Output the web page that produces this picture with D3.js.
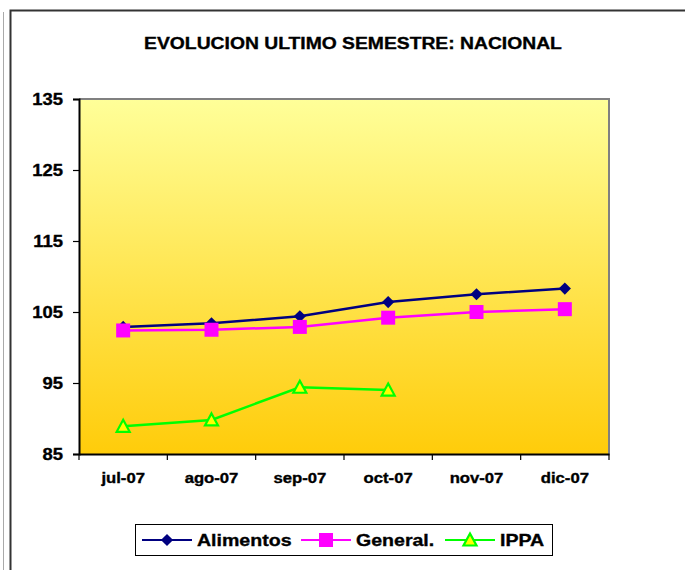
<!DOCTYPE html>
<html>
<head>
<meta charset="utf-8">
<script src="https://cdn.jsdelivr.net/npm/d3@7"></script>
<style>
  html, body { margin: 0; padding: 0; background: #fff; }
  svg { display: block; font-family: "Liberation Sans", Arial, sans-serif; }
  svg text { stroke: #000; stroke-width: 0.35px; paint-order: stroke; }
</style>
</head>
<body>
<svg id="chart" width="685" height="570"></svg>
<script>
// Monthly index values, second half of 2007
const months = ["jul-07", "ago-07", "sep-07", "oct-07", "nov-07", "dic-07"];
const alimentos = [102.9, 103.4, 104.4, 106.4, 107.5, 108.3];
const general = [102.4, 102.5, 102.9, 104.2, 105.0, 105.4];
const ippa = [88.9, 89.8, 94.4, 94.0, null, null];
const yTicks = [85, 95, 105, 115, 125, 135];

const seriesList = [
  { name: "Alimentos", values: alimentos, color: "#000080", marker: "diamond" },
  { name: "General.", values: general, color: "#FF00FF", marker: "square" },
  { name: "IPPA", values: ippa, color: "#00FF00", marker: "triangle" }
];

const svg = d3.select("#chart");
const plot = { left: 79, top: 99, right: 609, bottom: 454 };
const WIDEN = 1.15; // the lettering is drawn slightly wide

function widen(sel) {
  sel.each(function () {
    const w = this.getComputedTextLength();
    d3.select(this).attr("textLength", w * WIDEN).attr("lengthAdjust", "spacingAndGlyphs");
  });
}

// Outer chart frame
svg.append("line").attr("x1", 3.5).attr("x2", 3.5).attr("y1", 12).attr("y2", 570)
  .attr("stroke", "#aaa").attr("stroke-width", 1);
svg.append("path").attr("d", "M10.5,570 V10.5 H685")
  .attr("fill", "none").attr("stroke", "#333").attr("stroke-width", 2);

svg.append("text").attr("x", 353).attr("y", 48.5).attr("text-anchor", "middle")
  .attr("font-size", 16.8).attr("font-weight", "bold").attr("fill", "#000")
  .text("EVOLUCION ULTIMO SEMESTRE: NACIONAL")
  .call(widen);

const x = d3.scaleBand().domain(months).range([plot.left, plot.right]).padding(0);
const y = d3.scaleLinear().domain([85, 135]).range([plot.bottom, plot.top]);

// Plot area background gradient
const defs = svg.append("defs");
const grad = defs.append("linearGradient").attr("id", "bg").attr("x1", 0).attr("y1", 0).attr("x2", 0).attr("y2", 1);
grad.append("stop").attr("offset", "0%").attr("stop-color", "#FFFF99");
grad.append("stop").attr("offset", "100%").attr("stop-color", "#FFCC0A");

svg.append("rect").attr("x", plot.left).attr("y", plot.top)
  .attr("width", plot.right - plot.left).attr("height", plot.bottom - plot.top)
  .attr("fill", "url(#bg)");
svg.append("path")
  .attr("d", `M${plot.left},${plot.top} H${plot.right} V${plot.bottom}`)
  .attr("fill", "none").attr("stroke", "#808080").attr("stroke-width", 2);

// Y axis
const yAxis = svg.append("g").attr("transform", `translate(${plot.left},0)`)
  .call(d3.axisLeft(y).tickValues(yTicks).tickSize(6).tickPadding(10));
yAxis.select(".domain").attr("stroke", "#000").attr("stroke-width", 2);
yAxis.selectAll(".tick line").attr("stroke", "#000").attr("stroke-width", 1.2);
yAxis.selectAll("text").attr("font-size", 16).attr("font-weight", "bold")
  .attr("fill", "#000").attr("font-family", "Liberation Sans, Arial, sans-serif")
  .call(widen);

// X axis: ticks on category boundaries
const xAxis = svg.append("g").attr("transform", `translate(0,${plot.bottom})`)
  .call(d3.axisBottom(x).tickSize(0).tickPadding(19));
xAxis.select(".domain").attr("stroke", "#000").attr("stroke-width", 2);
xAxis.selectAll("text").attr("font-size", 14.5).attr("font-weight", "bold")
  .attr("fill", "#000").attr("font-family", "Liberation Sans, Arial, sans-serif")
  .call(widen);
const bounds = months.map(m => x(m)).concat([plot.right]);
xAxis.selectAll(".bt").data(bounds).enter().append("line")
  .attr("x1", d => d).attr("x2", d => d).attr("y1", 0).attr("y2", 6)
  .attr("stroke", "#000").attr("stroke-width", 1.2);

const cx = m => x(m) + x.bandwidth() / 2;

function drawMarker(g, type, color, px, py) {
  if (type === "diamond") {
    g.append("path").attr("d", d3.symbol().type(d3.symbolDiamond2).size(95)())
      .attr("transform", `translate(${px},${py})`).attr("fill", color);
  } else if (type === "square") {
    g.append("rect").attr("x", px - 7).attr("y", py - 7).attr("width", 14).attr("height", 14)
      .attr("fill", color);
  } else {
    g.append("path").attr("d", `M${px},${py - 6.5} L${px + 6.5},${py + 5.5} L${px - 6.5},${py + 5.5} Z`)
      .attr("fill", "#FFFF00").attr("stroke", "#00FF00").attr("stroke-width", 2.2)
      .attr("stroke-linejoin", "miter");
  }
}

const line = d3.line().defined(d => d.v != null).x(d => cx(d.m)).y(d => y(d.v));
seriesList.forEach(s => {
  const pts = months.map((m, i) => ({ m, v: s.values[i] }));
  const g = svg.append("g");
  g.append("path").datum(pts).attr("d", line).attr("fill", "none")
    .attr("stroke", s.color).attr("stroke-width", 2.5);
  pts.filter(p => p.v != null).forEach(p => drawMarker(g, s.marker, s.color, cx(p.m), y(p.v)));
});

// Legend
const legend = svg.append("g");
legend.append("rect").attr("x", 135.5).attr("y", 524.5).attr("width", 417).attr("height", 31)
  .attr("fill", "#fff").attr("stroke", "#000").attr("stroke-width", 1);
const legendX = [142, 301, 445];
seriesList.forEach((s, i) => {
  const lx = legendX[i], ly = 540;
  legend.append("line").attr("x1", lx).attr("x2", lx + 50).attr("y1", ly).attr("y2", ly)
    .attr("stroke", s.color).attr("stroke-width", 2);
  drawMarker(legend, s.marker, s.color, lx + 25, ly);
  legend.append("text").attr("x", lx + 55).attr("y", ly + 6)
    .attr("font-size", 17).attr("font-weight", "bold").attr("fill", "#000")
    .text(s.name)
    .call(widen);
});
</script>
</body>
</html>
